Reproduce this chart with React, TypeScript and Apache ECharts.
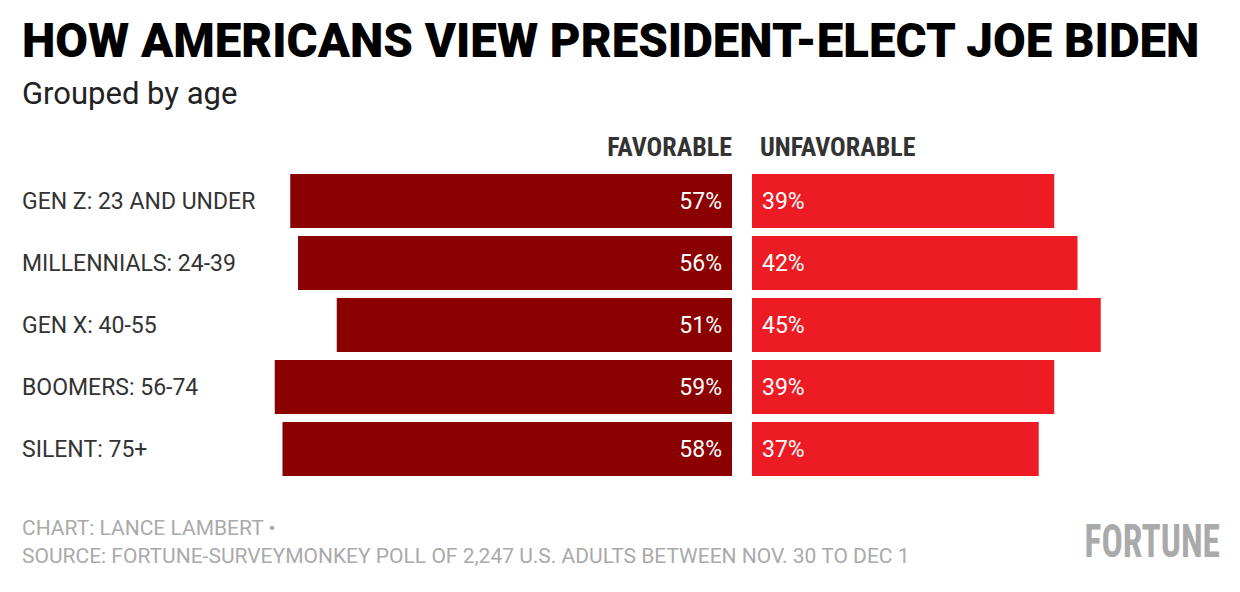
import React, { useEffect, useRef } from "react";
import * as echarts from "echarts";

const categories = [
  "GEN Z: 23 AND UNDER",
  "MILLENNIALS: 24-39",
  "GEN X: 40-55",
  "BOOMERS: 56-74",
  "SILENT: 75+",
];
const favorable = [57, 56, 51, 59, 58];
const unfavorable = [39, 42, 45, 39, 37];

const COND = "'Roboto Condensed', 'Liberation Sans Narrow', 'DejaVu Sans Condensed', Roboto, sans-serif";
const REG = "Roboto, sans-serif";

export default function App() {
  const ref = useRef<HTMLDivElement>(null);
  useEffect(() => {
    document.body.style.margin = "0";
    const chart = echarts.init(ref.current!, null, { renderer: "svg" });
    chart.setOption({
      animation: false,
      backgroundColor: "#fff",
      graphic: [
        {
          type: "text",
          x: 22,
          y: 41,
          style: {
            text: "HOW AMERICANS VIEW PRESIDENT-ELECT JOE BIDEN",
            verticalAlign: "middle",
            fontFamily: REG,
            fontWeight: 900,
            fontSize: 47.4,
            fill: "#000",
          },
        },
        {
          type: "text",
          x: 22,
          y: 93,
          style: {
            text: "Grouped by age",
            verticalAlign: "middle",
            fontFamily: REG,
            fontSize: 31,
            fill: "#222",
          },
        },
        {
          type: "text",
          x: 732,
          y: 147,
          style: {
            text: "FAVORABLE",
            align: "right",
            verticalAlign: "middle",
            fontFamily: COND,
            fontWeight: "bold",
            fontSize: 26,
            fill: "#333",
          },
        },
        {
          type: "text",
          x: 760,
          y: 147,
          style: {
            text: "UNFAVORABLE",
            align: "left",
            verticalAlign: "middle",
            fontFamily: COND,
            fontWeight: "bold",
            fontSize: 26,
            fill: "#333",
          },
        },
        {
          type: "text",
          x: 22,
          y: 528,
          style: {
            text: "CHART: LANCE LAMBERT •",
            verticalAlign: "middle",
            fontFamily: REG,
            fontSize: 21,
            fill: "#aaa",
          },
        },
        {
          type: "text",
          x: 22,
          y: 556,
          style: {
            text: "SOURCE: FORTUNE-SURVEYMONKEY POLL OF 2,247 U.S. ADULTS BETWEEN NOV. 30 TO DEC 1",
            verticalAlign: "middle",
            fontFamily: REG,
            fontSize: 21,
            fill: "#aaa",
          },
        },
        {
          type: "text",
          x: 1220,
          y: 541,
          scaleX: 0.77,
          style: {
            text: "FORTUNE",
            align: "right",
            verticalAlign: "middle",
            fontFamily: COND,
            fontWeight: "bold",
            fontSize: 46,
            fill: "#aaa",
          },
        },
      ],
      grid: [
        { left: 267, width: 465, top: 170, height: 310 },
        { left: 752, width: 465, top: 170, height: 310 },
      ],
      xAxis: [
        { gridIndex: 0, type: "value", min: 0, max: 60, inverse: true, show: false },
        { gridIndex: 1, type: "value", min: 0, max: 60, show: false },
      ],
      yAxis: [
        {
          gridIndex: 0,
          type: "category",
          data: categories,
          inverse: true,
          position: "left",
          axisLine: { show: false, onZero: false },
          axisTick: { show: false },
          axisLabel: {
            align: "left",
            margin: 245,
            fontFamily: REG,
            fontSize: 23,
            color: "#333",
          },
        },
        {
          gridIndex: 1,
          type: "category",
          data: categories,
          inverse: true,
          show: false,
        },
      ],
      series: [
        {
          type: "bar",
          xAxisIndex: 0,
          yAxisIndex: 0,
          data: favorable,
          barWidth: 54,
          itemStyle: { color: "#8b0000" },
          label: {
            show: true,
            position: "insideRight",
            distance: 10,
            formatter: "{c}%",
            fontFamily: REG,
            fontSize: 23,
            color: "#fff",
          },
        },
        {
          type: "bar",
          xAxisIndex: 1,
          yAxisIndex: 1,
          data: unfavorable,
          barWidth: 54,
          itemStyle: { color: "#ed1c24" },
          label: {
            show: true,
            position: "insideLeft",
            distance: 10,
            formatter: "{c}%",
            fontFamily: REG,
            fontSize: 23,
            color: "#fff",
          },
        },
      ],
    });
    return () => chart.dispose();
  }, []);
  return <div ref={ref} style={{ width: 1240, height: 592 }} />;
}
